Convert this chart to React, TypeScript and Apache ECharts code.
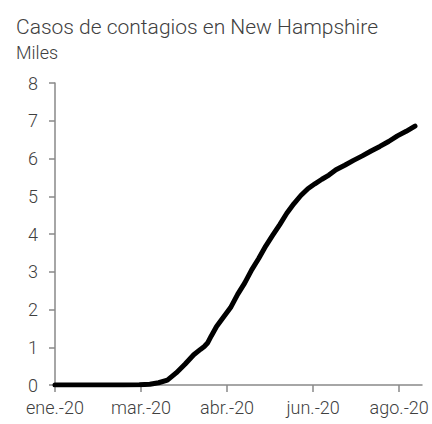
import React, { useEffect, useRef } from "react";
import * as echarts from "echarts";

const titleText = "Casos de contagios en New Hampshire";
const subtitleText = "Miles";
const startDate = "2020-01-22";
const dates = [
  "2020-01-22", "2020-03-01", "2020-03-10", "2020-03-16", "2020-03-21", "2020-03-26",
  "2020-03-31", "2020-04-05", "2020-04-10", "2020-04-14", "2020-04-16", "2020-04-18",
  "2020-04-20", "2020-04-23", "2020-04-27", "2020-05-01", "2020-05-05", "2020-05-09",
  "2020-05-13", "2020-05-17", "2020-05-21", "2020-05-25", "2020-05-29", "2020-06-02",
  "2020-06-06", "2020-06-10", "2020-06-14", "2020-06-18", "2020-06-22", "2020-06-26",
  "2020-06-30", "2020-07-05", "2020-07-10", "2020-07-15", "2020-07-20", "2020-07-25",
  "2020-07-30", "2020-08-04", "2020-08-09", "2020-08-14",
];
const casesThousands = [
  0, 0, 0.005, 0.02, 0.06, 0.13,
  0.32, 0.55, 0.8, 0.95, 1.02, 1.12,
  1.3, 1.55, 1.8, 2.05, 2.4, 2.7,
  3.05, 3.35, 3.68, 3.97, 4.25, 4.55,
  4.8, 5.02, 5.2, 5.33, 5.45, 5.56,
  5.7, 5.82, 5.95, 6.07, 6.2, 6.32,
  6.45, 6.6, 6.72, 6.86,
];
const xTickDays = [0, 49, 98, 147, 196];
const xMaxDay = 209;
const yTicks = [0, 1, 2, 3, 4, 5, 6, 7, 8];
const monthsEs = ["ene.", "feb.", "mar.", "abr.", "may.", "jun.", "jul.", "ago.", "sep.", "oct.", "nov.", "dic."];

const DAY = 86400000;
const t0 = Date.parse(startDate + "T00:00:00Z");
const dayOf = (d: string) => Math.round((Date.parse(d + "T00:00:00Z") - t0) / DAY);
const labelOf = (day: number) => {
  const dt = new Date(t0 + day * DAY);
  return monthsEs[dt.getUTCMonth()] + "-" + String(dt.getUTCFullYear()).slice(2);
};

export default function App() {
  const ref = useRef<HTMLDivElement>(null);
  useEffect(() => {
    if (!ref.current) return;
    const chart = echarts.init(ref.current, undefined, { renderer: "svg" });
    const font = "Roboto";
    const textColor = "#404040";
    chart.setOption({
      animation: false,
      backgroundColor: "#ffffff",
      title: {
        text: titleText,
        subtext: subtitleText,
        left: 11,
        top: 11,
        itemGap: 6,
        textStyle: { fontFamily: font, fontSize: 21, fontWeight: 300, color: textColor },
        subtextStyle: { fontFamily: font, fontSize: 18, fontWeight: 300, color: textColor },
      },
      grid: { left: 55, right: 10, top: 83, bottom: 39, containLabel: false },
      xAxis: {
        type: "value",
        min: 0,
        max: xMaxDay,
        interval: 49,
        axisLine: { show: true, lineStyle: { color: "#898989", width: 1.5 } },
        axisTick: { show: true, length: 7, customValues: xTickDays, lineStyle: { color: "#898989", width: 1.5 } },
        axisLabel: {
          customValues: xTickDays,
          formatter: (v: number) => labelOf(v),
          fontFamily: font,
          fontSize: 18,
          fontWeight: 300,
          color: textColor,
          margin: 13,
        },
        splitLine: { show: false },
      },
      yAxis: {
        type: "value",
        min: 0,
        max: 8,
        interval: 1,
        axisLine: { show: true, lineStyle: { color: "#898989", width: 1.5 } },
        axisTick: { show: true, length: 6, lineStyle: { color: "#898989", width: 1.5 } },
        axisLabel: {
          formatter: (v: number) => (yTicks.includes(v) ? String(v) : ""),
          fontFamily: font,
          fontSize: 18,
          fontWeight: 300,
          color: textColor,
          margin: 17,
        },
        splitLine: { show: false },
      },
      series: [
        {
          type: "line",
          data: dates.map((d, i) => [dayOf(d), casesThousands[i]]),
          showSymbol: false,
          smooth: false,
          lineStyle: { color: "#000000", width: 5, cap: "round", join: "round" },
        },
      ],
    });
    return () => chart.dispose();
  }, []);
  return <div ref={ref} style={{ position: "fixed", left: 0, top: 0, width: 432, height: 424 }} />;
}
